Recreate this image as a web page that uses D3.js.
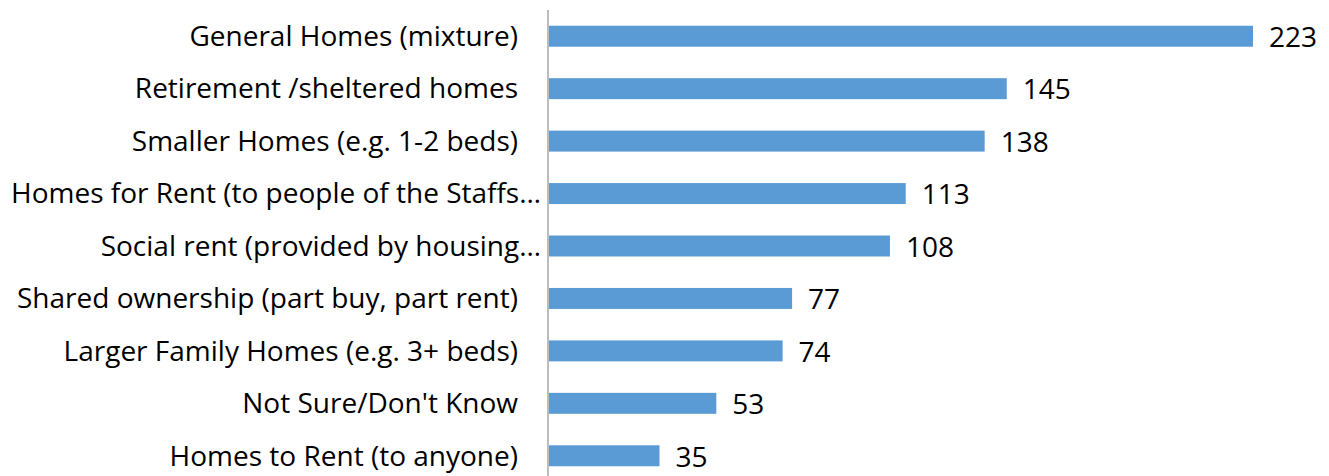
<html>
	<head>
		<title>Housing types</title>
		<script src="https://d3js.org/d3.v7.min.js" charset="utf-8"></script>
		<style>
			body { margin: 0; background: #fff; }
		</style>
	</head>
	<body>
		<div id="chart"></div>
		<script>
			//Data
			var categories = [
				"General Homes (mixture)",
				"Retirement /sheltered homes",
				"Smaller Homes (e.g. 1-2 beds)",
				"Homes for Rent (to people of the Staffs\u2026",
				"Social rent (provided by housing\u2026",
				"Shared ownership (part buy, part rent)",
				"Larger Family Homes (e.g. 3+ beds)",
				"Not Sure/Don't Know",
				"Homes to Rent (to anyone)"
			];
			var values = [223, 145, 138, 113, 108, 77, 74, 53, 35];

			//Setup
			var width = 1329, height = 476;
			var svg = d3.select("#chart").append("svg")
				.attr("width", width)
				.attr("height", height);

			var x = d3.scaleLinear().domain([0, 223]).range([549, 1253]);
			var y = d3.scaleBand().domain(categories).range([10, 482]).paddingInner(0.6).paddingOuter(0.3);

			var font = "'Open Sans', sans-serif";

			// Bars
			svg.selectAll("rect.bar")
				.data(values)
				.enter().append("rect")
				.attr("class", "bar")
				.attr("x", x(0))
				.attr("y", function(d, i) { return y(categories[i]); })
				.attr("width", function(d) { return x(d) - x(0); })
				.attr("height", y.bandwidth())
				.attr("fill", "#5B9BD5");

			// Axis line
			svg.append("line")
				.attr("x1", x(0) - 1).attr("x2", x(0) - 1)
				.attr("y1", 10).attr("y2", height)
				.attr("stroke", "#A6A6A6")
				.attr("stroke-width", 1.5);

			// Category labels
			svg.selectAll("text.cat")
				.data(categories)
				.enter().append("text")
				.attr("class", "cat")
				.attr("x", function(d) { return d.slice(-1) == "\u2026" ? x(0) - 8 : x(0) - 31; })
				.attr("y", function(d) { return y(d) + y.bandwidth() / 2; })
				.attr("dy", "0.35em")
				.attr("text-anchor", "end")
				.attr("font-family", font)
				.attr("font-size", "28px")
				.attr("fill", "#000")
				.text(function(d) { return d; });

			// Value labels
			svg.selectAll("text.val")
				.data(values)
				.enter().append("text")
				.attr("class", "val")
				.attr("x", function(d) { return x(d) + 16; })
				.attr("y", function(d, i) { return y(categories[i]) + y.bandwidth() / 2 + 1; })
				.attr("dy", "0.35em")
				.attr("font-family", font)
				.attr("font-size", "28px")
				.attr("fill", "#000")
				.text(function(d) { return d; });
		</script>
	</body>
</html>
